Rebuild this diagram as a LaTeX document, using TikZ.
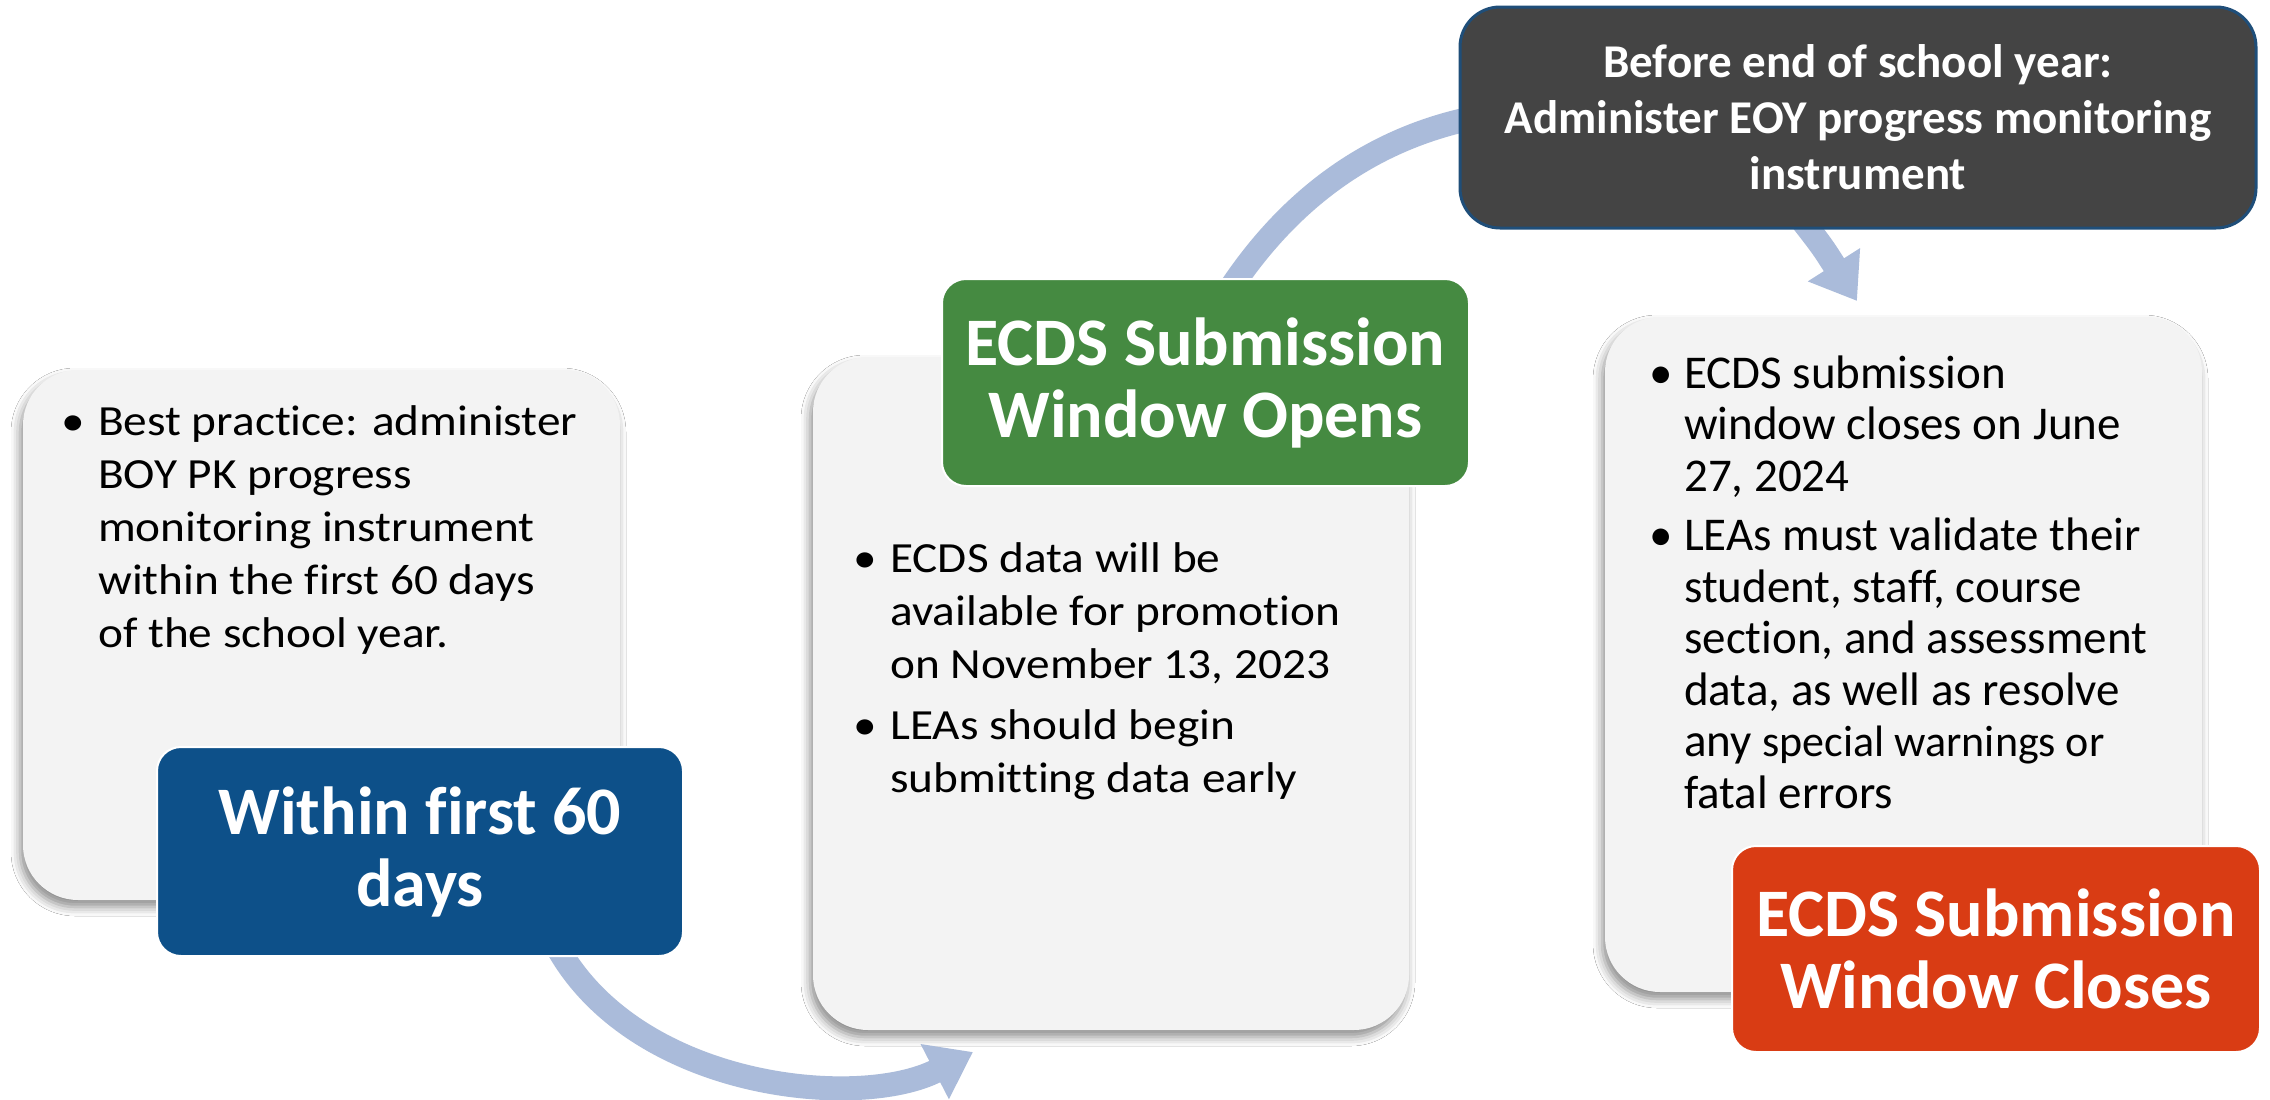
\documentclass[tikz,border=0pt]{standalone}
\usepackage{fontspec}
\setmainfont{Carlito}[Ligatures=NoCommon]
\newfontfamily\bodyA[FakeStretch=1.1,Ligatures=NoCommon]{Carlito}
\newfontfamily\bodyB[Ligatures=NoCommon]{Carlito}
\usetikzlibrary{arrows.meta,shadows.blur}
\definecolor{arrowc}{HTML}{AABBDA}
\definecolor{boxgray}{HTML}{F3F3F3}
\definecolor{bluebox}{HTML}{0D5089}
\definecolor{greenbox}{HTML}{458A41}
\definecolor{darkbox}{HTML}{444444}
\definecolor{darkedge}{HTML}{1F4E79}
\definecolor{orangebox}{HTML}{D93C14}
\begin{document}
\begin{tikzpicture}[x=1pt,y=-1pt,
  graybox/.style={shape=rectangle, fill=boxgray, rounded corners=55pt, inner sep=0pt,
    blur shadow={shadow xshift=-3pt, shadow yshift=-7pt, shadow blur radius=9pt, shadow opacity=45}},
  titlebox/.style={shape=rectangle, rounded corners=24pt, draw=white, line width=2pt,
    text=white, align=center, inner sep=0pt,
    font=\bfseries\fontsize{68}{72}\selectfont},
  flow/.style={draw=arrowc, line width=24pt, -{Triangle[length=43pt,width=59pt]}},
  flowplain/.style={draw=arrowc, line width=24pt},
  bodytext/.style={anchor=base west, inner sep=0pt, align=left}
]
\useasboundingbox (0,0) rectangle (2270,1100);
\fill[white] (0,0) rectangle (2270,1100);

% grey content boxes
\node[graybox, minimum width=597pt, minimum height=530pt] (leftbox) at (321.5,635) {};
\node[graybox, minimum width=596pt, minimum height=673pt] (midbox) at (1111,693.5) {};
\node[graybox, minimum width=597pt, minimum height=675pt] (rightbox) at (1903.5,654.5) {};

% connector end points
\coordinate (a1s) at (559,950);
\coordinate (a1e) at (973,1052);
\coordinate (a2s) at (1232,286);
\coordinate (a2e) at (1478,117);
\coordinate (a3s) at (1797,214);
\coordinate (a3e) at (1857,301);

% connectors
\draw[flow] (a1s) .. controls (640,1090) and (860,1110) .. (a1e);
\draw[flowplain] (a2s) .. controls (1290,200) and (1370,138) .. (a2e);
\draw[flow] (a3s) .. controls (1822,246) .. (a3e);

% title boxes
\node[titlebox, fill=bluebox, minimum width=526pt, minimum height=209pt] (blue) at (420,851.5)
  {Within first 60\\days};
\node[titlebox, fill=greenbox, minimum width=527pt, minimum height=207pt] (green) at (1205.5,382.5)
  {ECDS Submission\\Window Opens};
\node[titlebox, fill=orangebox, minimum width=528pt, minimum height=206pt] (orange) at (1996,949)
  {ECDS Submission\\Window Closes};
\node[shape=rectangle, rounded corners=40pt, fill=darkbox, draw=darkedge, line width=3pt,
  text=white, align=center, inner sep=0pt, minimum width=796pt, minimum height=221pt,
  font=\bfseries\fontsize{47}{56}\selectfont] (dark) at (1858,117.5)
  {Before end of school year:\\Administer EOY progress monitoring\\instrument};

% bullet texts
\node[bodytext] (lefttext) at (61,435) {\bodyA\fontsize{43}{53}\selectfont
  \begin{tabular}[t]{@{}p{37pt}@{}l@{}}
  \textbullet & Best practice: administer\\
  & BOY PK progress\\
  & monitoring instrument\\
  & within the first 60 days\\
  & of the school year.
  \end{tabular}};

\node[bodytext] (midtext) at (853,572) {\bodyA\fontsize{43}{53}\selectfont
  \begin{tabular}[t]{@{}p{37pt}@{}l@{}}
  \textbullet & ECDS data will be\\
  & available for promotion\\
  & on November 13, 2023\\[8pt]
  \textbullet & LEAs should begin\\
  & submitting data early
  \end{tabular}};

\node[bodytext] (righttext) at (1649,388) {\bodyB\fontsize{47}{51.5}\selectfont
  \begin{tabular}[t]{@{}p{35pt}@{}l@{}}
  \textbullet & ECDS submission\\
  & window closes on June\\
  & 27, 2024\\[8pt]
  \textbullet & LEAs must validate their\\
  & student, staff, course\\
  & section, and assessment\\
  & data, as well as resolve\\
  & any {\fontsize{44}{51.5}\selectfont special warnings or}\\
  & fatal errors
  \end{tabular}};
\end{tikzpicture}
\end{document}
